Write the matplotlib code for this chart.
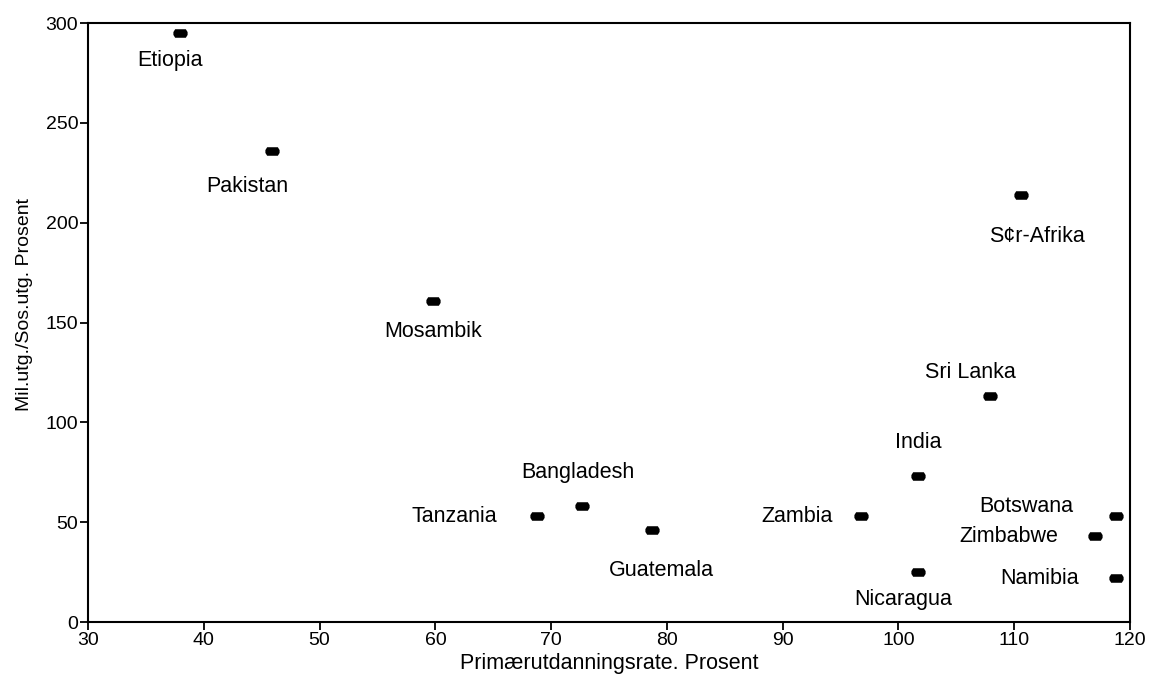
import matplotlib
matplotlib.use("Agg")
import matplotlib.pyplot as plt

plt.rcParams['font.family'] = ['Liberation Sans', 'DejaVu Sans']

# --- data ---
countries = ['Etiopia', 'Pakistan', 'Mosambik', 'Tanzania', 'Bangladesh', 'Guatemala',
             'Zambia', 'India', 'Nicaragua', 'Sri Lanka', 'S¢r-Afrika',
             'Botswana', 'Zimbabwe', 'Namibia']
primary_rate = [37.9, 45.9, 59.8, 68.8, 72.7, 78.7, 96.8, 101.7, 101.7, 107.9, 110.6,
                118.8, 117.0, 118.8]
mil_sos = [295, 236, 161, 53, 58, 46, 53, 73, 25, 113, 214, 53, 43, 22]

# label offsets (points) and alignment for each country
label_pos = {
    'Etiopia': (-7, -20, 'center'),
    'Pakistan': (-18, -26, 'center'),
    'Mosambik': (0, -22, 'center'),
    'Tanzania': (-29, 0, 'right'),
    'Bangladesh': (-3, 24, 'center'),
    'Guatemala': (7, -29, 'center'),
    'Zambia': (-21, 0, 'right'),
    'India': (0, 24, 'center'),
    'Nicaragua': (-11, -20, 'center'),
    'Sri Lanka': (-14, 17, 'center'),
    'S¢r-Afrika': (11, -30, 'center'),
    'Botswana': (-31, 7, 'right'),
    'Zimbabwe': (-27, 0, 'right'),
    'Namibia': (-27, 0, 'right'),
}

fig = plt.figure(figsize=(11.51, 6.77), dpi=100)
ax = fig.add_axes([0.0765, 0.0812, 0.9053, 0.8848])

# small rounded blob marker, wider than tall
blob = [(-1, -0.2), (-0.75, -0.6), (0.75, -0.6), (1, -0.2),
        (1, 0.2), (0.75, 0.6), (-0.75, 0.6), (-1, 0.2), (-1, -0.2)]
ax.scatter(primary_rate, mil_sos, marker=blob, s=105, color='black', linewidths=0)

for name, x, y in zip(countries, primary_rate, mil_sos):
    dx, dy, ha = label_pos[name]
    ax.annotate(name, (x, y), xytext=(dx, dy), textcoords='offset points',
                ha=ha, va='center', fontsize=15.5)

ax.set_xlim(30, 120)
ax.set_ylim(0, 300)
ax.set_xticks(range(30, 121, 10))
ax.set_yticks(range(0, 301, 50))
ax.tick_params(direction='out', length=6, width=1.3, labelsize=14, pad=1)
for sp in ax.spines.values():
    sp.set_linewidth(1.5)

ax.set_xlabel('Primærutdanningsrate. Prosent', fontsize=15.5, labelpad=3)
ax.set_ylabel('Mil.utg./Sos.utg. Prosent', fontsize=14)
ax.yaxis.set_label_coords(-0.053, 0.53)

fig.savefig('out.png', dpi=100)
